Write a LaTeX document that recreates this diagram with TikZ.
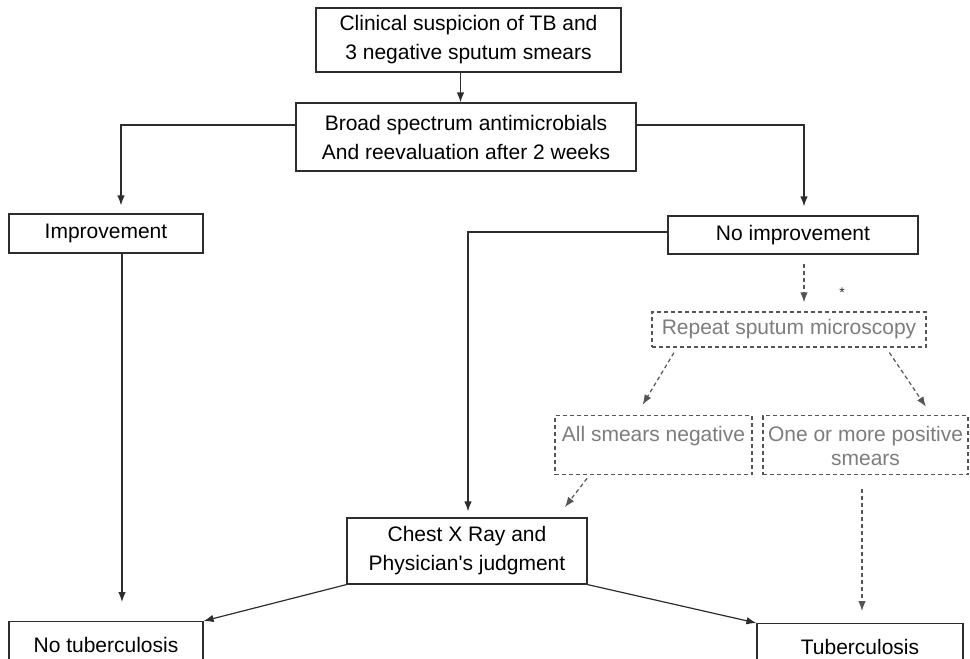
\documentclass[tikz,border=0pt]{standalone}
\usepackage{fontspec}
\setmainfont{Liberation Sans}[Ligatures=TeXOff]
\usetikzlibrary{arrows.meta,calc}
\definecolor{ink}{RGB}{45,45,45}
\definecolor{dashink}{RGB}{85,85,85}
\definecolor{graytext}{RGB}{125,125,125}
\begin{document}
\begin{tikzpicture}[x=1pt,y=-1pt,
  box/.style={draw=ink, line width=1.2pt, inner sep=0pt, align=center,
    font=\fontsize{21}{29}\selectfont, text=black},
  dbox/.style={draw=dashink, line width=1.2pt, dash pattern=on 4pt off 3pt, inner sep=0pt,
    align=center, font=\fontsize{21}{24}\selectfont, text=graytext},
  arr/.style={draw=ink, line width=1.2pt, -{Latex[length=10pt,width=7.5pt]}},
  darr/.style={draw=dashink, line width=1.2pt, dash pattern=on 4pt off 3pt,
    -{Latex[length=10pt,width=7.5pt]}},
  ln/.style={draw=ink, line width=1.2pt}]
\useasboundingbox (0,0) rectangle (970,659);
\clip (0,0) rectangle (970,659);
\fill[white] (0,0) rectangle (970,659);

\node[box, minimum width=305pt, minimum height=64pt] (top) at (468.5,40)
  {Clinical suspicion of TB and\\3 negative sputum smears};
\node[box, minimum width=340pt, minimum height=68pt] (b2) at (466,137)
  {Broad spectrum antimicrobials\\And reevaluation after 2 weeks};
\node[box, minimum width=194pt, minimum height=39pt] (imp) at (106,233.5) {Improvement};
\node[box, minimum width=250pt, minimum height=38pt] (noimp) at (793,235) {No improvement};
\node[dbox, minimum width=274pt, minimum height=35pt] (rep) at (789,329.5) {Repeat sputum microscopy};
\node[font=\fontsize{14}{14}\selectfont, text=ink, inner sep=0pt] (ast) at (842,293) {*};
\node[dbox, minimum width=197pt, minimum height=59pt, anchor=north] (alls) at (653.5,415)
  {\rule{0pt}{16pt}All smears negative\\\mbox{}};
\node[dbox, minimum width=205pt, minimum height=59pt, anchor=north] (one) at (865.5,415)
  {\rule{0pt}{16pt}One or more positive\\smears};
\node[box, minimum width=240pt, minimum height=66pt] (chest) at (467,551)
  {Chest X Ray and\\Physician's judgment};
\node[box, minimum width=194pt, minimum height=47pt, anchor=north] (notb) at (106,621)
  {No tuberculosis};
\node[box, minimum width=206pt, minimum height=47pt, anchor=north] (tb) at (860,623)
  {Tuberculosis};

% solid connectors
\draw[arr] ([xshift=-8pt]top.south) -- ([xshift=-8pt]top.south |- b2.north);
\draw[arr, shorten >=8pt] ($(b2.west)+(0,12pt)$) -| ([xshift=15pt]imp.north);
\draw[arr, shorten >=9pt] ($(b2.east)+(0,12pt)$) -| ([xshift=11pt]noimp.north);
\draw[arr, shorten >=6pt] ($(noimp.west)+(0,3pt)$) -| ([xshift=1pt]chest.north);
\draw[arr, shorten >=19pt] ([xshift=16pt]imp.south) -- ([xshift=16pt]imp.south |- notb.north);
\draw[arr] (chest.south west) -- (notb.north east);
\draw[arr] (chest.south east) -- (tb.north west);

% dashed connectors
\draw[darr, shorten <=9pt, shorten >=9pt] ([xshift=11pt]noimp.south) -- ([xshift=11pt]noimp.south |- rep.north);
\draw[darr, shorten <=6pt, shorten >=12pt] ([xshift=-112pt]rep.south) -- ([xshift=-17pt]alls.north);
\draw[darr, shorten <=6pt, shorten >=10pt] ([xshift=97pt]rep.south) -- ([xshift=66pt]one.north);
\draw[darr, shorten <=4pt, shorten >=13pt] ([xshift=-64pt]alls.south) -- ([xshift=90pt]chest.north);
\draw[darr, shorten <=14pt, shorten >=12pt] ([xshift=-3.5pt]one.south) -- ([xshift=-3.5pt]one.south |- tb.north);
\end{tikzpicture}
\end{document}
